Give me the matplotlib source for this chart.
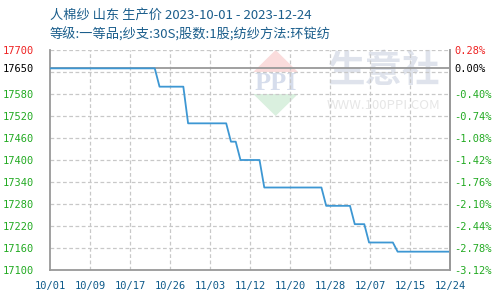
import matplotlib
matplotlib.use("Agg")
import matplotlib.pyplot as plt
import matplotlib.dates as mdates
from matplotlib.patches import Polygon
import pandas as pd

# ---- data (vertices of the price line) -------------------------------------
dates = ["2023-10-01", "2023-10-23", "2023-10-24", "2023-10-29", "2023-10-30",
         "2023-11-07", "2023-11-08", "2023-11-09", "2023-11-10", "2023-11-14",
         "2023-11-15", "2023-11-27", "2023-11-28", "2023-12-03", "2023-12-04",
         "2023-12-06", "2023-12-07", "2023-12-12", "2023-12-13", "2023-12-24"]
prices = [17650, 17650, 17600, 17600, 17500,
          17500, 17450, 17450, 17400, 17400,
          17325, 17325, 17275, 17275, 17225,
          17225, 17175, 17175, 17150, 17150]

base = 17650
grid_vals = [17700, 17640, 17580, 17520, 17460, 17400, 17340, 17280, 17220, 17160, 17100]
ytick_vals = [17700, 17650, 17580, 17520, 17460, 17400, 17340, 17280, 17220, 17160, 17100]
xtick_labels = ["10/01", "10/09", "10/17", "10/26", "11/03", "11/12",
                "11/20", "11/28", "12/07", "12/15", "12/24"]

title1 = "人棉纱 山东 生产价 2023-10-01 - 2023-12-24"
title2 = "等级:一等品;纱支:30S;股数:1股;纺纱方法:环锭纺"

# ---- figure ------------------------------------------------------------------
plt.rcParams["font.family"] = ["Noto Sans CJK SC", "DejaVu Sans"]
fig = plt.figure(figsize=(5, 3), dpi=100)
ax = fig.add_axes([0.1, 0.1, 0.8, 0.7333])

x = pd.to_datetime(dates)
x0, x1 = x[0], x[-1]
ax.set_xlim(x0, x1)
ax.set_ylim(17100, 17700)

# watermark (PPI logo + site name), drawn in axes fraction coords
tr = ax.transAxes
lx, hw = 0.564, 0.056
ax.add_patch(Polygon([[lx - hw, 0.90], [lx, 1.0], [lx + hw, 0.90]],
                     closed=True, transform=tr, color="#fadcdc", lw=0, zorder=0))
ax.add_patch(Polygon([[lx - hw, 0.80], [lx, 0.70], [lx + hw, 0.80]],
                     closed=True, transform=tr, color="#daf0df", lw=0, zorder=0))
ax.text(lx, 0.85, "PPI", transform=tr, ha="center", va="center", fontsize=19,
        fontweight="bold", color="#d6ddec", family="Liberation Serif", zorder=0)
ax.text(0.835, 0.905, "生意社", transform=tr, ha="center", va="center",
        fontsize=27, fontweight="bold", color="#dfe3ec", zorder=0)
ax.text(0.835, 0.75, "WWW.100PPI.COM", transform=tr, ha="center",
        va="center", fontsize=9.5, color="#e6e6e6", zorder=0)

# grid
for g in grid_vals:
    ax.axhline(g, color="#c8c8c8", lw=0.9, ls=(0, (3, 2)), zorder=1)
xt = pd.date_range(x0, x1, periods=len(xtick_labels))
for t in xt[1:-1]:
    ax.axvline(t, color="#c8c8c8", lw=0.9, ls=(0, (3, 2)), zorder=1)
ax.axhline(base, color="#999999", lw=1.3, zorder=2)

ax.plot(x, prices, color="#3d97d3", lw=1.3, zorder=3)

# axes styling
for s in ["left", "bottom", "right"]:
    ax.spines[s].set_color("#999999")
    ax.spines[s].set_linewidth(1.3)
ax.spines["top"].set_visible(False)

mono = "DejaVu Sans Mono"
ax.set_xticks(xt)
ax.set_xticklabels(xtick_labels, family=mono, fontsize=7.5, color="#0e5a8a")
ax.tick_params(axis="x", length=0, pad=8)

ax.set_yticks(ytick_vals)
ax.set_yticklabels([str(v) for v in ytick_vals], family=mono, fontsize=7.5)
ax.tick_params(axis="y", length=0, pad=11.5)

ax2 = ax.twinx()
ax2.set_ylim(ax.get_ylim())
ax2.set_yticks(ytick_vals)
ax2.set_yticklabels([f"{(v / base - 1) * 100:.2f}%" for v in ytick_vals],
                    family=mono, fontsize=7.5)
ax2.tick_params(axis="y", length=0, pad=3)
for s in ["left", "bottom", "top"]:
    ax2.spines[s].set_visible(False)
ax2.spines["right"].set_color("#999999")
ax2.spines["right"].set_linewidth(1.3)

def tick_color(v):
    if v > base:
        return "#ee2222"
    if v == base:
        return "#000000"
    return "#22aa22"

for lab, v in zip(ax.get_yticklabels(), ytick_vals):
    lab.set_color(tick_color(v))
for lab, v in zip(ax2.get_yticklabels(), ytick_vals):
    lab.set_color(tick_color(v))

fig.text(0.1, 0.95, title1, fontsize=9.5, color="#1b5e8c", va="center")
fig.text(0.1, 0.885, title2, fontsize=9.5, color="#1b5e8c", va="center")

fig.savefig("out.png", dpi=100)
